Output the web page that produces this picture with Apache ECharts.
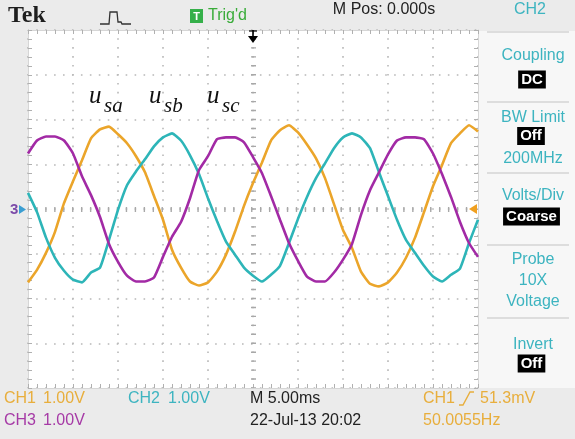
<!DOCTYPE html>
<html>
<head>
<meta charset="utf-8">
<script src="https://cdn.jsdelivr.net/npm/echarts@6/dist/echarts.min.js"></script>
<style>
html,body{margin:0;padding:0;background:#ebebeb;}
#c{width:575px;height:439px;}
</style>
</head>
<body>
<div id="c"></div>
<script>
// time axis samples (ms), M Pos 0.000s at centre, 5.00 ms/div
const timeMs = [-25,-24,-23,-22,-21,-20,-19,-18,-17,-16,-15,-14,-13,-12,-11,-10,-9,-8,-7,-6,-5,-4,-3,-2,-1,0,1,2,3,4,5,6,7,8,9,10,11,12,13,14,15,16,17,18,19,20,21,22,23,24,25];
// CH1 (usa) volts, 1.00 V/div
const usa = [-1.64,-1.36,-0.98,-0.51,0.13,0.62,1.09,1.58,1.78,1.84,1.67,1.47,1.18,0.82,0.29,-0.24,-0.91,-1.31,-1.62,-1.71,-1.64,-1.40,-1.02,-0.51,0.07,0.58,1.04,1.53,1.76,1.87,1.71,1.44,1.13,0.69,0.11,-0.47,-0.87,-1.40,-1.67,-1.73,-1.64,-1.42,-1.09,-0.64,-0.07,0.51,0.98,1.47,1.69,1.87,1.73];
// CH2 (usb)
const usb = [0.36,-0.07,-0.64,-1.09,-1.38,-1.58,-1.64,-1.42,-1.31,-0.69,-0.02,0.53,0.84,1.11,1.40,1.60,1.69,1.53,1.20,0.78,0.24,-0.27,-0.73,-1.02,-1.31,-1.49,-1.62,-1.47,-1.27,-0.76,-0.22,0.27,0.69,1.02,1.36,1.60,1.69,1.60,1.36,0.82,0.29,-0.24,-0.69,-0.98,-1.27,-1.51,-1.62,-1.47,-1.33,-0.76,-0.24];
// CH3 (usc)
const usc = [1.24,1.53,1.62,1.62,1.53,1.24,0.73,0.31,-0.18,-0.78,-1.18,-1.49,-1.62,-1.62,-1.53,-1.07,-0.62,-0.29,0.24,0.87,1.18,1.56,1.60,1.60,1.49,1.16,0.80,0.29,-0.24,-0.76,-1.16,-1.51,-1.62,-1.62,-1.42,-1.13,-0.78,-0.13,0.42,0.82,1.22,1.53,1.60,1.60,1.56,1.24,0.78,0.27,-0.29,-0.76,-1.07];

const seriesNames = ['usa','usb','usc'];
const seriesColors = ['#EBA52A','#2DB5B8','#A22AA5'];
const seriesValues = [usa, usb, usc];

const chart = echarts.init(document.getElementById('c'), null, {renderer:'canvas'});

const dotGrid = {show:true, lineStyle:{color:'#b8b8b8', width:1.6, type:[1.6,7.35], dashOffset:0.8}};
const rulerX = (pos) => ({
  type:'value', min:-25, max:25, interval:5, position:pos,
  axisLine:{show:true, onZero:false, lineStyle:{color:'#d6d6d6', width:1}},
  axisTick:{show:true, inside:true, length:4, lineStyle:{color:'#b0b0b0'}},
  minorTick:{show:true, splitNumber:5, length:4, lineStyle:{color:'#b0b0b0'}},
  axisLabel:{show:false},
  splitLine: pos==='bottom' ? dotGrid : {show:false}
});
const rulerY = (pos) => ({
  type:'value', min:-4, max:4, interval:1, position:pos,
  axisLine:{show:true, onZero:false, lineStyle:{color:'#d6d6d6', width:1}},
  axisTick:{show:true, inside:true, length:4, lineStyle:{color:'#b0b0b0'}},
  minorTick:{show:true, splitNumber:5, length:4, lineStyle:{color:'#b0b0b0'}},
  axisLabel:{show:false},
  splitLine: pos==='left' ? dotGrid : {show:false}
});

const series = seriesNames.map((n,i)=>({
  name:n, type:'line', xAxisIndex:0, yAxisIndex:0,
  data: timeMs.map((t,k)=>[t, seriesValues[i][k]]),
  showSymbol:false, symbol:'none', smooth:0.15,
  lineStyle:{color:seriesColors[i], width:2.6},
  itemStyle:{color:seriesColors[i]},
  z: 5+i,
  markLine: i===0 ? {
    silent:true, symbol:'none', label:{show:false},
    lineStyle:{color:'#a8a8a8', width:5, type:[1.4,7.55], dashOffset:0.7},
    data:[{yAxis:0},{xAxis:0}], z:1
  } : undefined
}));

const cyan = '#3DB4C0', orange = '#E8AE3C', purple = '#A63AA6';
const sans = 'Liberation Sans, Arial, sans-serif';
const serif = 'Liberation Serif, Times New Roman, serif';
const T = (x,y,text,fill,size,opt={}) => ({
  type:'text', x, y, z:50,
  style:{text, fill, font:(opt.style||'normal')+' '+(opt.weight||'normal')+' '+size+'px '+(opt.family||sans),
    align:opt.align||'left', verticalAlign:'middle'}
});
const Box = (x,y,text) => ({
  type:'text', x, y, z:50,
  style:{text, fill:'#fff', font:'bold 15px '+sans, align:'center', verticalAlign:'middle',
    backgroundColor:'#000', padding:[2,3,1,3]}
});
const sep = (y) => ({type:'line', z:40, shape:{x1:487,y1:y,x2:569,y2:y}, style:{stroke:'#c4c4c4', lineWidth:1.2}});

const graphic = [
  // right panel background
  {type:'rect', z:0, shape:{x:479,y:31,width:96,height:357}, style:{fill:'#f7f7f7'}},
  sep(32), sep(102), sep(173), sep(245), sep(318),
  // header
  T(8,16,'Tek','#1e1e1e',24,{weight:'bold', family:serif}),
  {type:'polyline', z:50, shape:{points:[[100,24],[109,24],[110,12],[117,12],[118,22],[121,22],[122,24],[131,24]]}, style:{stroke:'#333', lineWidth:1.3, fill:null}},
  {type:'rect', z:50, shape:{x:190,y:9,width:13,height:14}, style:{fill:'#35b04a'}},
  T(196.5,16.5,'T','#ffffff',11,{weight:'bold', align:'center'}),
  T(208,16,"Trig'd",'#3aac3a',16),
  T(384,9.5,'M Pos: 0.000s','#222',16,{align:'center'}),
  T(530,9.5,'CH2',cyan,16,{align:'center'}),
  // trigger position arrow
  {type:'line', z:50, shape:{x1:253,y1:30,x2:253,y2:40}, style:{stroke:'#000', lineWidth:1.6}},
  {type:'polygon', z:50, shape:{points:[[248,36],[258,36],[253,43]]}, style:{fill:'#000'}},
  {type:'line', z:50, shape:{x1:249,y1:31,x2:257,y2:31}, style:{stroke:'#000', lineWidth:1.2}},
  // channel ground marker (left) and trigger level marker (right)
  T(10,210,'3','#7b4aa8',15,{weight:'bold'}),
  {type:'polygon', z:50, shape:{points:[[19,205],[26,209.5],[19,214]]}, style:{fill:'#3a9ed2'}},
  {type:'polygon', z:50, shape:{points:[[477,204],[469,209],[477,214]]}, style:{fill:'#F0A020'}},
  // waveform labels
  T(89,96,'u','#111',25,{family:serif, style:'italic'}),
  T(104,106,'sa','#111',21,{family:serif, style:'italic'}),
  T(149,96,'u','#111',25,{family:serif, style:'italic'}),
  T(164,106,'sb','#111',21,{family:serif, style:'italic'}),
  T(207,96,'u','#111',25,{family:serif, style:'italic'}),
  T(222,106,'sc','#111',21,{family:serif, style:'italic'}),
  // right menu
  T(533,56,'Coupling',cyan,16,{align:'center'}),
  Box(532,79.5,'DC'),
  T(533,117.5,'BW Limit',cyan,16,{align:'center'}),
  Box(531,136,'Off'),
  T(533,158.5,'200MHz',cyan,16,{align:'center'}),
  T(533,196,'Volts/Div',cyan,16,{align:'center'}),
  Box(531.5,216.5,'Coarse'),
  T(533,260,'Probe',cyan,16,{align:'center'}),
  T(533,281,'10X',cyan,16,{align:'center'}),
  T(533,302,'Voltage',cyan,16,{align:'center'}),
  T(533,345,'Invert',cyan,16,{align:'center'}),
  Box(531.5,363.5,'Off'),
  // bottom status
  T(4,399,'CH1',orange,16), T(43,399,'1.00V',orange,16),
  T(128,399,'CH2',cyan,16), T(168,399,'1.00V',cyan,16),
  T(250,399,'M 5.00ms','#222',16),
  T(4,421,'CH3',purple,16), T(43,421,'1.00V',purple,16),
  T(250,421,'22-Jul-13 20:02','#222',16),
  T(423,399,'CH1',orange,16),
  {type:'polyline', z:50, shape:{points:[[459,405],[463,405],[470,392],[474,392]]}, style:{stroke:orange, lineWidth:1.4, fill:null}},
  T(480,399,'51.3mV',orange,16),
  T(423,421,'50.0055Hz',orange,16)
];

chart.setOption({
  backgroundColor:'#ebebeb',
  animation:false,
  grid:{left:28, right:97, top:30, bottom:51, show:true, backgroundColor:'#ffffff', borderWidth:0},
  xAxis:[rulerX('bottom'), rulerX('top')],
  yAxis:[rulerY('left'), rulerY('right')],
  series: series,
  graphic: graphic
});
</script>
</body>
</html>
